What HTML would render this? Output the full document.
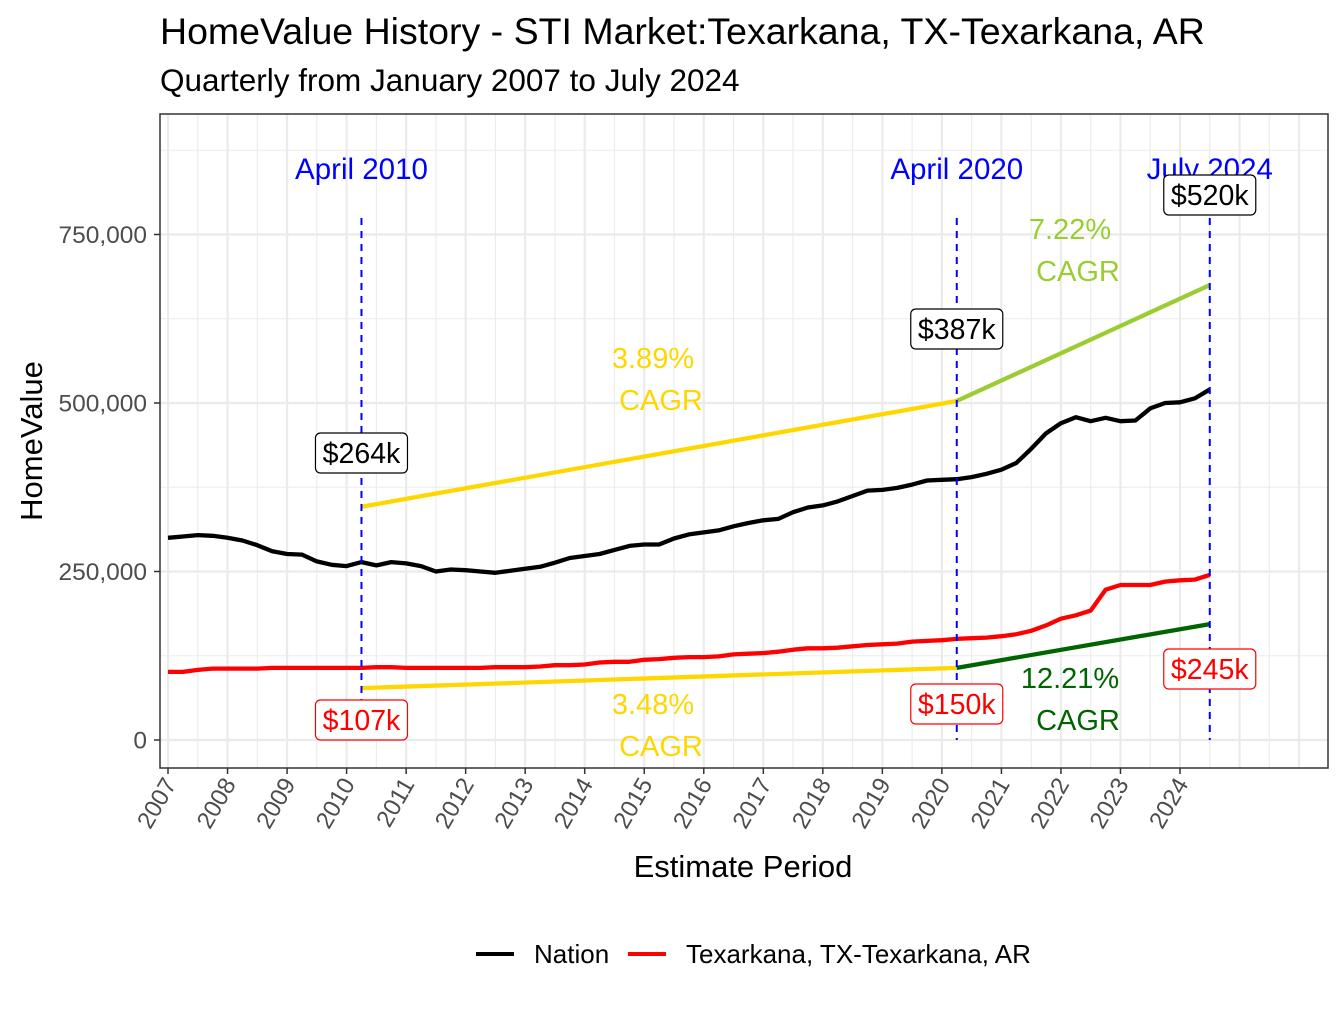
<!DOCTYPE html>
<html><head><meta charset="utf-8"><style>
body{margin:0;background:#fff;font-family:"Liberation Sans",Arial,sans-serif}
svg text{font-family:"Liberation Sans",Arial,sans-serif}
</style></head><body>
<svg id="chart" width="1344" height="1008" viewBox="0 0 1344 1008" xmlns="http://www.w3.org/2000/svg">
<rect width="1344" height="1008" fill="#fff"/>
<text x="160" y="44" font-size="37.5" fill="#000">HomeValue History - STI Market:Texarkana, TX-Texarkana, AR</text>
<text x="160" y="91" font-size="31.5" fill="#000">Quarterly from January 2007 to July 2024</text>
<g id="grid"></g>
<g id="marks"></g>
<rect x="160" y="114" width="1168" height="654" fill="none" stroke="#333" stroke-width="1.5"/>
<g id="axes"></g>
<text transform="translate(42,441) rotate(-90)" text-anchor="middle" font-size="31">HomeValue</text>
<text x="743" y="877" text-anchor="middle" font-size="31">Estimate Period</text>
<g>
<line x1="476" y1="954" x2="514" y2="954" stroke="#000" stroke-width="4"/>
<text x="534" y="963" font-size="26">Nation</text>
<line x1="628" y1="954" x2="666" y2="954" stroke="#f00" stroke-width="4"/>
<text x="686" y="963" font-size="26">Texarkana, TX-Texarkana, AR</text>
</g>
</svg>
<script>
const nation=[300,302,304,303,300,296,289,280,276,275,265,260,258,264,259,264,262,258,250,253,252,250,248,251,254,257,263,270,273,276,282,288,290,290,299,305,308,311,317,322,326,328,338,345,348,354,362,370,371,374,379,385,386,387,390,395,401,411,432,455,470,479,473,478,473,474,492,500,501,507,520];
const texarkana=[101,101,104,106,106,106,106,107,107,107,107,107,107,107,108,108,107,107,107,107,107,107,108,108,108,109,111,111,112,115,116,116,119,120,122,123,123,124,127,128,129,131,134,136,136,137,139,141,142,143,146,147,148,150,151,152,154,157,162,170,180,185,192,223,230,230,230,235,237,238,245];
const yTicks=[0,250000,500000,750000];
const yTickLabels=["0","250,000","500,000","750,000"];
const xYears=[2007,2008,2009,2010,2011,2012,2013,2014,2015,2016,2017,2018,2019,2020,2021,2022,2023,2024];
const markerDates=[2010.25,2020.25,2024.5];
const markerLabels=["April 2010","April 2020","July 2024"];
const nationCagrStart=[346,503];
const nationCagrEnd=[503,675];
const texCagrStart=[77,107];
const texCagrEnd=[107,172];
const cagrNation=["3.89%","7.22%"];
const cagrTex=["3.48%","12.21%"];

const X=t=>168+(t-2007)*(1180-168)/17;
const Y=v=>740-v*168.5/250000;
const NS="http://www.w3.org/2000/svg";
function mk(parent,tag,attrs){const e=document.createElementNS(NS,tag);for(const k in attrs)e.setAttribute(k,attrs[k]);document.getElementById(parent).appendChild(e);return e;}

for(let v=-125000;v<=875000;v+=125000){const y=Y(v);if(y<114||y>768)continue;
 const g=mk('grid','line',{x1:160,x2:1328,y1:y,y2:y,stroke:'#ebebeb','stroke-width':(v%250000===0)?2.2:1.1});
 
 }
for(let t=2007;t<=2026.5;t+=0.5){const x=X(t);if(x<160||x>1328)continue;
 const g=mk('grid','line',{x1:x,x2:x,y1:114,y2:768,stroke:'#ebebeb','stroke-width':(t%1===0)?2.2:1.1});
 
 }

yTicks.forEach((v,i)=>{
 const t=mk('axes','line',{x1:154,x2:160,y1:Y(v),y2:Y(v),stroke:'#333','stroke-width':1.5});
 
 
 const l=mk('axes','text',{x:147,y:Y(v)+8.5,'text-anchor':'end','font-size':24.5,fill:'#4d4d4d'});
 l.textContent=yTickLabels[i];
 
 
});
xYears.forEach(yr=>{
 const x=X(yr);
 const t=mk('axes','line',{x1:x,x2:x,y1:768,y2:774,stroke:'#333','stroke-width':1.5});
 
 
 const l=mk('axes','text',{transform:`translate(${x+9},${784}) rotate(-60)`,'text-anchor':'end','font-size':24,fill:'#4d4d4d'});
 l.textContent=yr;
 
 
});

function path(arr){return arr.map((v,i)=>(i?'L':'M')+X(2007+i*0.25).toFixed(1)+','+Y(v*1000).toFixed(1)).join(' ');}
const pN=mk('marks','path',{d:path(nation),fill:'none',stroke:'#000','stroke-width':4.3,'stroke-linejoin':'round'});


const pT=mk('marks','path',{d:path(texarkana),fill:'none',stroke:'#f00','stroke-width':4.3,'stroke-linejoin':'round'});



const segs=[[markerDates[0],markerDates[1]],[markerDates[1],markerDates[2]]];
const nCol=['#ffd700','#9acd32'], tCol=['#ffd700','#006400'];
segs.forEach((s,i)=>{
 const a=mk('marks','line',{x1:X(s[0]),x2:X(s[1]),y1:Y(nationCagrStart[i]*1000),y2:Y(nationCagrEnd[i]*1000),stroke:nCol[i],'stroke-width':4.3});
 
 
 const b=mk('marks','line',{x1:X(s[0]),x2:X(s[1]),y1:Y(texCagrStart[i]*1000),y2:Y(texCagrEnd[i]*1000),stroke:tCol[i],'stroke-width':4.3});
 
 
});

markerDates.forEach((d,i)=>{
 const l=mk('marks','line',{x1:X(d),x2:X(d),y1:218,y2:740,stroke:'#00f','stroke-width':2,'stroke-dasharray':'7,6'});
 
 
 const t=mk('marks','text',{x:X(d),y:179,'text-anchor':'middle','font-size':29.5,fill:'#00f'});
 t.textContent=markerLabels[i];
 
 
});

function box(x,cy,txt,col,name){
 const w=txt.length*16+12;
 const r=mk('marks','rect',{x:x-w/2,y:cy-20,width:w,height:40,rx:5,fill:'#fff',stroke:col,'stroke-width':1.2});
 
 
 const t=mk('marks','text',{x:x,y:cy+10,'text-anchor':'middle','font-size':28.5,fill:col});
 t.textContent=txt;
 
 
}
box(X(2010.25),453,'$264k','#000','nation-value-2010');
box(X(2020.25),329,'$387k','#000','nation-value-2020');
box(X(2024.5),195,'$520k','#000','nation-value-2024');
box(X(2010.25),720,'$107k','#f00','tex-value-2010');
box(X(2020.25),704,'$150k','#f00','tex-value-2020');
box(X(2024.5),669,'$245k','#f00','tex-value-2024');

function cagr(x,y,pct,col,name){
 const a=mk('marks','text',{x:x,y:y,'text-anchor':'middle','font-size':29,fill:col});
 a.textContent=pct;
 
 
 const b=mk('marks','text',{x:x+8,y:y+42,'text-anchor':'middle','font-size':29,fill:col});
 b.textContent='CAGR';
 
 
}
cagr(653,368,cagrNation[0],'#ffd700','nation-cagr-1');
cagr(1070,239,cagrNation[1],'#9acd32','nation-cagr-2');
cagr(653,714,cagrTex[0],'#ffd700','tex-cagr-1');
cagr(1070,688,cagrTex[1],'#006400','tex-cagr-2');
</script>
</body></html>
